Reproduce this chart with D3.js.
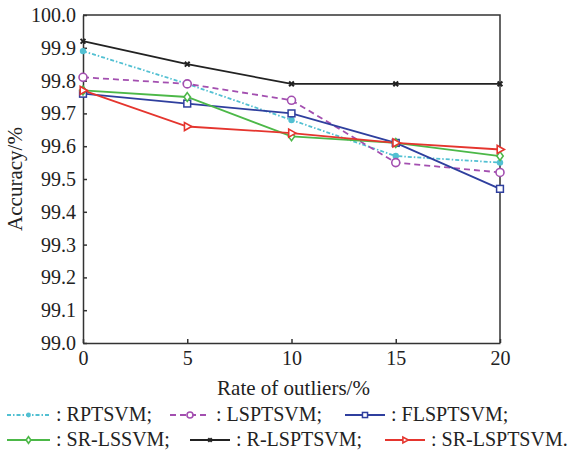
<!DOCTYPE html>
<html>
<head>
<meta charset="utf-8">
<script src="https://cdn.jsdelivr.net/npm/d3@7"></script>
<style>
  body { margin: 0; background: #fff; }
</style>
</head>
<body>
<div class="chart"></div>
<script>
const rates = [0, 5, 10, 15, 20]
const yTicks = [99.0, 99.1, 99.2, 99.3, 99.4, 99.5, 99.6, 99.7, 99.8, 99.9, 100.0]

const rptsvm = [99.89, 99.79, 99.68, 99.57, 99.55]
const lsptsvm = [99.81, 99.79, 99.74, 99.55, 99.52]
const flsptsvm = [99.76, 99.73, 99.70, 99.61, 99.47]
const srLssvm = [99.77, 99.75, 99.63, 99.61, 99.57]
const rLsptsvm = [99.92, 99.85, 99.79, 99.79, 99.79]
const srLsptsvm = [99.77, 99.66, 99.64, 99.61, 99.59]

const names = ['RPTSVM', 'LSPTSVM', 'FLSPTSVM', 'SR-LSSVM', 'R-LSPTSVM', 'SR-LSPTSVM']

const series = [
  {name: names[0], values: rptsvm, color: '#52c0d2', dash: '4,2,1.5,2', marker: 'dot'},
  {name: names[1], values: lsptsvm, color: '#a34fb0', dash: '6,4', marker: 'ring'},
  {name: names[2], values: flsptsvm, color: '#2f3f9e', dash: null, marker: 'square'},
  {name: names[3], values: srLssvm, color: '#4cb848', dash: null, marker: 'diamond'},
  {name: names[4], values: rLsptsvm, color: '#222222', dash: null, marker: 'cross'},
  {name: names[5], values: srLsptsvm, color: '#e5352e', dash: null, marker: 'tri'}
]

const FONT = '"Liberation Serif", "Times New Roman", serif'

const margin = ({top: 15, right: 76, bottom: 108, left: 83})
const width = 576 - margin.left - margin.right
const height = 451 - margin.top - margin.bottom

const svg = d3.select('.chart').append('svg')
  .attr('width', 576)
  .attr('height', 451)

const g = svg.append('g')
  .attr('transform', `translate(${margin.left},${margin.top})`)

const xScale = d3.scaleLinear().domain([0, 20]).range([0, width])
const yScale = d3.scaleLinear().domain([99.0, 100.0]).range([height, 0])

const xAxis = d3.axisBottom(xScale).tickValues(rates).tickSizeInner(-4).tickSizeOuter(0).tickPadding(8)
const yAxis = d3.axisLeft(yScale).tickValues(yTicks).tickSizeInner(-4).tickSizeOuter(0)
  .tickPadding(7).tickFormat(d3.format('.1f'))

g.append('g')
  .attr('class', 'axis x-axis')
  .attr('transform', `translate(0,${height})`)
  .call(xAxis)
g.append('g')
  .attr('class', 'axis y-axis')
  .call(yAxis)

g.selectAll('.axis').attr('font-family', FONT)
g.selectAll('.axis path, .axis line').attr('stroke', '#333').attr('stroke-width', 1.5)
g.selectAll('.axis text').attr('font-size', 20).attr('fill', '#222')

// top and right frame
g.append('path')
  .attr('d', `M0,0H${width}V${height}`)
  .attr('fill', 'none')
  .attr('stroke', '#333')
  .attr('stroke-width', 1.5)

g.append('text')
  .attr('x', width / 2 + 2)
  .attr('y', height + 52)
  .attr('text-anchor', 'middle')
  .attr('font-family', FONT)
  .attr('font-size', 21)
  .attr('fill', '#222')
  .text('Rate of outliers/%')

g.append('text')
  .attr('transform', `translate(${-61},${height / 2}) rotate(-90)`)
  .attr('text-anchor', 'middle')
  .attr('font-family', FONT)
  .attr('font-size', 21)
  .attr('fill', '#222')
  .text('Accuracy/%')

function drawMarker(sel, type, color, size) {
  const s = size
  if (type === 'dot') {
    sel.append('circle').attr('r', s * 0.8).attr('fill', color)
  } else if (type === 'ring') {
    sel.append('circle').attr('r', s).attr('fill', '#fff').attr('stroke', color).attr('stroke-width', 1.6)
  } else if (type === 'square') {
    sel.append('rect').attr('x', -s * 0.85).attr('y', -s * 0.85).attr('width', s * 1.7).attr('height', s * 1.7)
      .attr('fill', '#fff').attr('stroke', color).attr('stroke-width', 1.5)
  } else if (type === 'diamond') {
    sel.append('path').attr('d', `M0,${-s * 1.1}L${s * 0.8},0L0,${s * 1.1}L${-s * 0.8},0Z`)
      .attr('fill', '#fff').attr('stroke', color).attr('stroke-width', 1.6)
  } else if (type === 'cross') {
    sel.append('path').attr('d', `M${-s * 0.6},${-s * 0.6}L${s * 0.6},${s * 0.6}M${-s * 0.6},${s * 0.6}L${s * 0.6},${-s * 0.6}`)
      .attr('stroke', color).attr('stroke-width', 2)
  } else if (type === 'tri') {
    sel.append('path').attr('d', `M${s * 1.1},0L${-s * 0.7},${-s}L${-s * 0.7},${s}Z`)
      .attr('fill', '#fff').attr('stroke', color).attr('stroke-width', 1.6)
  }
}

const line = d3.line()
  .x((d, i) => xScale(rates[i]))
  .y(d => yScale(d))

series.forEach(s => {
  g.append('path')
    .datum(s.values)
    .attr('d', line)
    .attr('fill', 'none')
    .attr('stroke', s.color)
    .attr('stroke-width', 1.8)
    .attr('stroke-dasharray', s.dash)
})

series.forEach(s => {
  s.values.forEach((v, i) => {
    const m = g.append('g').attr('transform', `translate(${xScale(rates[i])},${yScale(v)})`)
    drawMarker(m, s.marker, s.color, 4)
  })
})

// legend
const legendPos = [
  {x: 7, y: 415}, {x: 170, y: 415}, {x: 345, y: 415},
  {x: 7, y: 440}, {x: 190, y: 440}, {x: 385, y: 440}
]
const legendLen = [43, 40, 40, 43, 40, 40]

series.forEach((s, i) => {
  const p = legendPos[i]
  const lg = svg.append('g').attr('transform', `translate(${p.x},${p.y})`)
  lg.append('line')
    .attr('x1', 0).attr('x2', legendLen[i])
    .attr('stroke', s.color).attr('stroke-width', 1.8)
    .attr('stroke-dasharray', s.dash)
  drawMarker(lg.append('g').attr('transform', `translate(${legendLen[i] / 2},0)`), s.marker, s.color, 3)
  lg.append('text')
    .attr('x', legendLen[i] + 6)
    .attr('y', 6)
    .attr('font-family', FONT)
    .attr('font-size', 20)
    .attr('fill', '#222')
    .text(': ' + s.name + (i === 5 ? '.' : ';'))
})
</script>
</body>
</html>
